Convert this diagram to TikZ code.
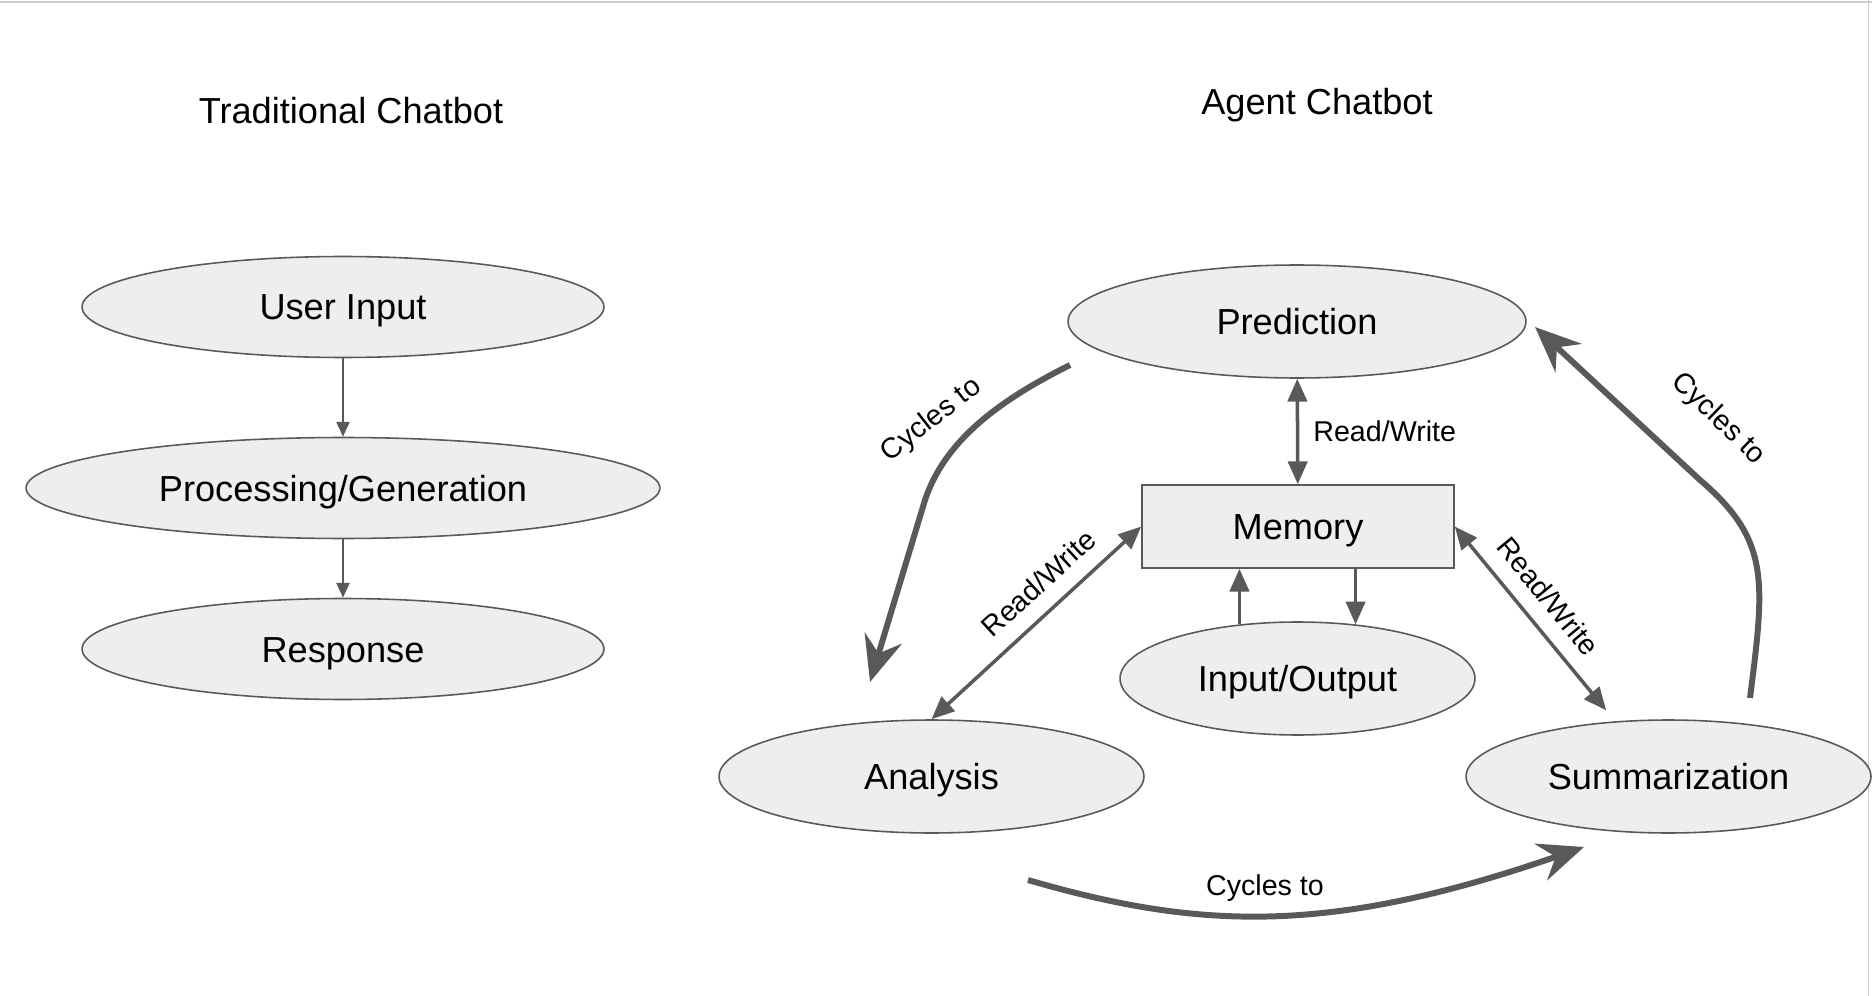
\documentclass[tikz,border=0pt]{standalone}
\usepackage{fontspec}
\setmainfont{Liberation Sans}
\usetikzlibrary{shapes.geometric,arrows.meta,calc,positioning}

\definecolor{linegray}{HTML}{595959}
\definecolor{fillgray}{HTML}{EEEEEE}
\definecolor{framegray}{HTML}{CCCCCC}

\tikzset{
    blob/.style={ellipse, draw=linegray, line width=0.9pt, fill=fillgray, inner sep=0pt,
        font=\fontsize{20.6}{24}\selectfont, text height=14.8pt, text depth=0pt},
    memobox/.style={rectangle, draw=linegray, line width=0.9pt, fill=fillgray, inner sep=0pt,
        font=\fontsize{20.6}{24}\selectfont, text height=14.8pt, text depth=0pt},
    headline/.style={font=\fontsize{20.6}{24}\selectfont, inner sep=0pt},
    thinarr/.style={draw=linegray, line width=1.1pt, -{Triangle[length=8.5pt,width=7.5pt]}},
    rwarr/.style={draw=linegray, line width=2pt},
    rwtip/.tip={Triangle[length=13pt,width=11pt]},
    rwlabel/.style={font=\fontsize{16.3}{19}\selectfont, text height=11.7pt, text depth=0pt, inner sep=4pt},
    cyclearr/.style={draw=linegray, line width=3.4pt, line join=round, -{Stealth[length=26pt,width=22pt,inset=9pt]}},
}

\begin{document}
\begin{tikzpicture}[x=0.02cm, y=-0.02cm]
    \useasboundingbox (0,0) rectangle (1872,996);
    %рамка
    \draw [framegray, line width=1.2pt] (0,2) -- (1872,2);
    \draw [framegray, line width=0.6pt] (1868,0) -- (1868,996);
    %заголовки
    \node [headline, anchor=base] (trad) at (351,124) {Traditional Chatbot};
    \node [headline, anchor=base] (agent) at (1317,115) {Agent Chatbot};
    %обычный чатбот
    \node [blob, minimum width=10.44cm, minimum height=2.02cm] (ui) at (343,307) {User Input};
    \node [blob, minimum width=12.68cm, minimum height=2.02cm] (pg) at (343,488) {Processing/Generation};
    \node [blob, minimum width=10.44cm, minimum height=2.02cm] (resp) at (343,649) {Response};
    \draw [thinarr] (ui) -- (pg);
    \draw [thinarr] (pg) -- (resp);
    %агент
    \node [blob, minimum width=9.16cm, minimum height=2.26cm] (pred) at (1297,321.5) {Prediction};
    \node [memobox, minimum width=6.24cm, minimum height=1.66cm] (mem) at (1298,526.5) {Memory};
    \node [blob, minimum width=7.1cm, minimum height=2.26cm] (io) at (1297.5,678.5) {Input/Output};
    \node [blob, minimum width=8.5cm, minimum height=2.26cm] (ana) at (931.5,776.5) {Analysis};
    \node [blob, minimum width=8.1cm, minimum height=2.26cm] (summ) at (1668.5,776.5) {Summarization};
    %чтение/запись
    \draw [rwarr, rwtip-rwtip] (pred) -- node [rwlabel, right=4pt] {Read/Write} (mem);
    \draw [rwarr, rwtip-rwtip] (ana.north) -- node [rwlabel, sloped, above=5pt, pos=0.6] {Read/Write} (mem.west);
    \draw [rwarr, rwtip-rwtip, shorten >=8pt] (mem.east) -- node [rwlabel, sloped, above=5pt, pos=0.45] {Read/Write} (summ.134);
    \draw [rwarr, -rwtip] (io.137) -- (io.137 |- mem.south);
    \draw [rwarr, -rwtip] (io.43 |- mem.south) -- (io.43);
    %циклы
    \coordinate (cl0) at (1070,365);
    \coordinate (cl1) at (870,682);
    \coordinate (cr0) at (1750,698);
    \coordinate (cr1) at (1535,327);
    \coordinate (cb0) at (1028,880);
    \coordinate (cb1) at (1584,847);
    \draw [cyclearr] (cl0) .. controls (1000,400) and (945,440) .. (925,500) -- (cl1);
    \draw [cyclearr] (cr0) .. controls (1765,580) and (1770,540) .. (1700,480) -- (cr1);
    \draw [cyclearr] (cb0) .. controls (1200,930) and (1330,935) .. (cb1);
    \node [rwlabel, rotate=38] (cyl) at (930,418) {Cycles to};
    \node [rwlabel, rotate=-44] (cyr) at (1720,417) {Cycles to};
    \node [rwlabel] (cyb) at (1265,885) {Cycles to};
\end{tikzpicture}
\end{document}
